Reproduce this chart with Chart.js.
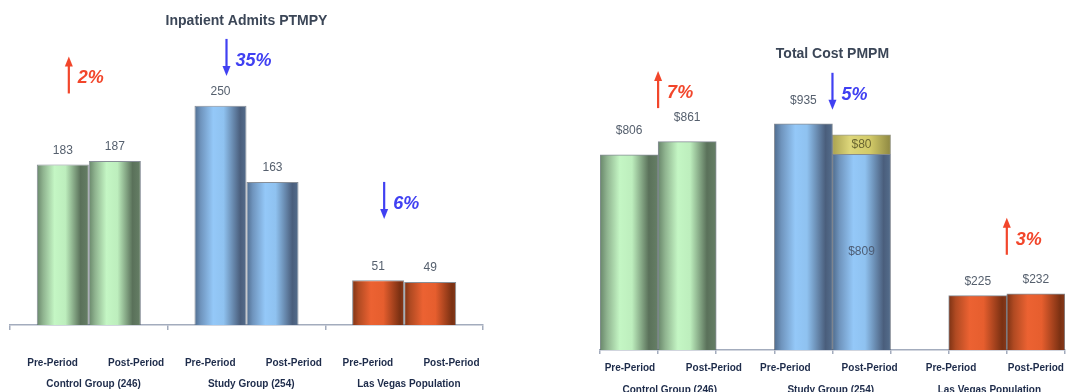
<!DOCTYPE html>
<html><head><meta charset="utf-8">
<script src="https://cdn.jsdelivr.net/npm/chart.js@4/dist/chart.umd.min.js"></script>
<style>
html,body{margin:0;padding:0;background:#fff;overflow:hidden;width:1066px;height:392px;position:relative;}
#l{position:absolute;left:0;top:0;}
#r{position:absolute;left:530px;top:0;}
</style></head><body>
<canvas id="l" width="530" height="392"></canvas>
<canvas id="r" width="536" height="400"></canvas>
<script>
// ---------- DATA ----------
const groups = ['Control Group (246)', 'Study Group (254)', 'Las Vegas Population'];
const periods = ['Pre-Period', 'Post-Period'];

const admitsTitle = 'Inpatient Admits PTMPY';
const admitsPre = [183, 250, 51];
const admitsPost = [187, 163, 49];
const admitsChange = [2, -35, -6];

const costTitle = 'Total Cost PMPM';
const costPre = [806, 935, 225];
const costPost = [861, 809, 232];
const costPostExtra = [null, 80, null];
const costChange = [7, -5, 3];

// ---------- STYLE / LAYOUT ----------
const FONT = '"Liberation Sans", Arial, sans-serif';
const AXIS_COLOR = '#a3acbd';
const LABEL_COLOR = '#1d2b4a';
const VALUE_COLOR = '#56606e';
const UP_COLOR = '#f2462b';
const DOWN_COLOR = '#4040f2';
const groupColors = ['green', 'blue', 'orange'];
const PALETTE = {
  green:  [[0,'#68866a'],[0.12,'#8fb38f'],[0.34,'#c4f6c4'],[0.55,'#bdeebd'],[0.84,'#5a715a'],[1,'#667f66']],
  blue:   [[0,'#4f6c8e'],[0.12,'#6f94bd'],[0.36,'#94c8f8'],[0.56,'#8fc2f0'],[0.88,'#4a5e7c'],[1,'#546d8c']],
  orange: [[0,'#7c3214'],[0.12,'#b04a22'],[0.36,'#ec6232'],[0.6,'#e65e2e'],[0.92,'#7a3012'],[1,'#86391a']],
  yellow: [[0,'#aaa250'],[0.3,'#ddd67a'],[0.65,'#d2ca68'],[1,'#8e8842']]
};

function gradFill(ctx, key){
  const el = ctx.element; const stops = PALETTE[key];
  if (!el || !isFinite(el.x) || !isFinite(el.width) || el.width <= 0) return stops[2][1];
  const g = ctx.chart.ctx.createLinearGradient(el.x - el.width/2, 0, el.x + el.width/2, 0);
  stops.forEach(s => g.addColorStop(s[0], s[1]));
  return g;
}

function drawArrow(ctx, x, yTop, yBot, dir, col){
  ctx.save();
  ctx.strokeStyle = col; ctx.fillStyle = col; ctx.lineWidth = 2.2;
  const head = 10, hw = 4;
  ctx.beginPath();
  if (dir === 'up') {
    ctx.moveTo(x, yBot); ctx.lineTo(x, yTop + head - 1); ctx.stroke();
    ctx.beginPath(); ctx.moveTo(x, yTop); ctx.lineTo(x - hw, yTop + head); ctx.lineTo(x + hw, yTop + head); ctx.closePath(); ctx.fill();
  } else {
    ctx.moveTo(x, yTop); ctx.lineTo(x, yBot - head + 1); ctx.stroke();
    ctx.beginPath(); ctx.moveTo(x, yBot); ctx.lineTo(x - hw, yBot - head); ctx.lineTo(x + hw, yBot - head); ctx.closePath(); ctx.fill();
  }
  ctx.restore();
}

function makeArrows(cfg){
  return { id: 'arrows', afterDraw(chart){
    const ctx = chart.ctx, xs = chart.scales.x, ys = chart.scales.y;
    cfg.changes.forEach((chg, g) => {
      const cx = cfg.groupCenter(xs, g) + cfg.dx;
      const cy = ys.getPixelForValue(cfg.arrowValues[g]);
      const up = chg > 0;
      const col = up ? UP_COLOR : DOWN_COLOR;
      drawArrow(ctx, cx, cy - 18.5, cy + 18.5, up ? 'up' : 'down', col);
      ctx.save();
      ctx.fillStyle = col; ctx.font = 'italic bold 18px ' + FONT;
      ctx.textAlign = 'left'; ctx.textBaseline = 'middle';
      ctx.fillText(Math.abs(chg) + '%', cx + 9, cy + 3.5);
      ctx.restore();
    });
  }};
}

function makeValueLabels(cfg){
  return { id: 'valueLabels', afterDatasetsDraw(chart){
    const ctx = chart.ctx;
    ctx.save();
    ctx.font = '12px ' + FONT; ctx.textAlign = 'center'; ctx.textBaseline = 'middle';
    chart.data.datasets.forEach((ds, di) => {
      const meta = chart.getDatasetMeta(di);
      meta.data.forEach((el, i) => {
        const v = ds.data[i]; if (v == null) return;
        const txt = cfg.format(v);
        const place = cfg.place(di, i);
        if (place.inside) {
          ctx.fillStyle = place.color || VALUE_COLOR;
          ctx.fillText(txt, el.x, (el.y + el.base) / 2);
        } else {
          ctx.fillStyle = VALUE_COLOR;
          ctx.fillText(txt, el.x, el.y - place.offset);
        }
      });
    });
    ctx.restore();
  }};
}

// a label-only linear axis: ticks placed at given positions (in category units)
function labelAxis(positions, labels, gap, weight, max){
  return {
    type: 'linear', position: 'bottom', min: 0, max: max, bounds: 'data', offset: false, weight: weight,
    grid: { display: true, drawOnChartArea: false, drawTicks: true, tickLength: gap, color: 'rgba(0,0,0,0)' },
    border: { display: false },
    afterBuildTicks: s => { s.ticks = positions.map(v => ({ value: v })); },
    ticks: { autoSkip: false, maxRotation: 0, minRotation: 0, padding: 2, color: LABEL_COLOR,
      font: { family: FONT, size: 10, weight: 'bold' },
      callback: (v, i) => labels[i] }
  };
}

const periodLabels = groups.flatMap(() => periods);

// ---------- LEFT CHART ----------
const leftPeriodPos = groups.flatMap((_, g) => [g + 0.27, g + 0.80]);
const leftGroupPos = groups.map((_, g) => g + 0.53);

new Chart(document.getElementById('l'), {
  type: 'bar',
  data: { labels: groups, datasets: [
    { label: periods[0], data: admitsPre, backgroundColor: c => gradFill(c, groupColors[c.dataIndex]),
      borderColor: 'rgba(70,82,96,0.65)', borderWidth: 1, barPercentage: 1, categoryPercentage: 0.66 },
    { label: periods[1], data: admitsPost, backgroundColor: c => gradFill(c, groupColors[c.dataIndex]),
      borderColor: 'rgba(70,82,96,0.65)', borderWidth: 1, barPercentage: 1, categoryPercentage: 0.66 }
  ]},
  options: {
    responsive: false, animation: false, events: [],
    layout: { padding: { left: 10, right: 47, top: 0, bottom: 0 } },
    plugins: {
      legend: { display: false }, tooltip: { enabled: false },
      title: { display: true, text: admitsTitle, fullSize: false, color: '#3b4657',
        font: { family: FONT, size: 14, weight: 'bold' }, padding: { top: 13, bottom: 32 } }
    },
    scales: {
      x: { type: 'category', offset: true, weight: 0,
        grid: { display: true, offset: true, drawOnChartArea: false, drawTicks: true, tickLength: 5, color: AXIS_COLOR, lineWidth: 1.5 },
        border: { display: true, color: AXIS_COLOR, width: 1.5 }, ticks: { display: false } },
      xp: labelAxis(leftPeriodPos, periodLabels, 25, 1, groups.length),
      xg: labelAxis(leftGroupPos, groups, 5, 2, groups.length),
      y: { display: false, min: 0, max: 300 }
    }
  },
  plugins: [
    makeValueLabels({ format: v => String(v), place: () => ({ offset: 14 }) }),
    makeArrows({ changes: admitsChange, arrowValues: [285, 305, 142], dx: -20,
      groupCenter: (xs, g) => xs.getPixelForValue(g) })
  ]
});

// ---------- RIGHT CHART ----------
const slotsFrom = (a, b) => groups.flatMap((_, g) => g < groups.length - 1 ? [a[g], b[g], null] : [a[g], b[g]]);
const costBaseSlots = slotsFrom(costPre, costPost);
const costExtraSlots = slotsFrom(groups.map(() => null), costPostExtra);
const slotKeys = costBaseSlots.map((_, i) => 's' + i);
const slotGroup = i => Math.floor(i / 3);
const rightPeriodPos = [0.515, 1.96, 3.19, 4.64, 6.04, 7.50];
const rightGroupPos = [1.20, 3.97, 6.70];

new Chart(document.getElementById('r'), {
  type: 'bar',
  data: { labels: slotKeys, datasets: [
    { label: 'Cost', data: costBaseSlots, backgroundColor: c => gradFill(c, groupColors[slotGroup(c.dataIndex)]),
      borderColor: 'rgba(70,82,96,0.65)', borderWidth: 1, barPercentage: 1, categoryPercentage: 1, stack: 's' },
    { label: 'Extra', data: costExtraSlots, backgroundColor: c => gradFill(c, 'yellow'),
      borderColor: 'rgba(90,90,60,0.6)', borderWidth: 1, barPercentage: 1, categoryPercentage: 1, stack: 's' }
  ]},
  options: {
    responsive: false, animation: false, events: [],
    layout: { padding: { left: 70, right: 0, top: 0, bottom: 1.5 } },
    plugins: {
      legend: { display: false }, tooltip: { enabled: false },
      title: { display: true, text: costTitle, fullSize: false, color: '#3b4657',
        font: { family: FONT, size: 14, weight: 'bold' }, padding: { top: 45.6, bottom: 45.6 } }
    },
    scales: {
      x: { type: 'category', offset: true, stacked: true, weight: 0,
        grid: { display: true, offset: true, drawOnChartArea: false, drawTicks: true, tickLength: 4, color: AXIS_COLOR, lineWidth: 1.5 },
        border: { display: true, color: AXIS_COLOR, width: 1.5 }, ticks: { display: false } },
      xp: labelAxis(rightPeriodPos, periodLabels, 6.5, 1, slotKeys.length),
      xg: labelAxis(rightGroupPos, groups, 6, 2, slotKeys.length),
      y: { display: false, min: 0, max: 1000, stacked: true }
    }
  },
  plugins: [
    makeValueLabels({ format: v => '$' + v, place: (di, i) => {
      if (di === 1) return { inside: true, color: '#6b6632' };
      if (costExtraSlots[i] != null) return { inside: true, color: '#4d5d75' };
      return { offset: [24, 23, 14][slotGroup(i)] };
    }}),
    makeArrows({ changes: costChange, arrowValues: [1076, 1069, 470], dx: 0,
      groupCenter: (xs, g) => (xs.getPixelForValue(3 * g) + xs.getPixelForValue(3 * g + 1)) / 2 })
  ]
});

Object.values(Chart.instances).forEach(c => c.update('none'));
</script>
</body></html>
